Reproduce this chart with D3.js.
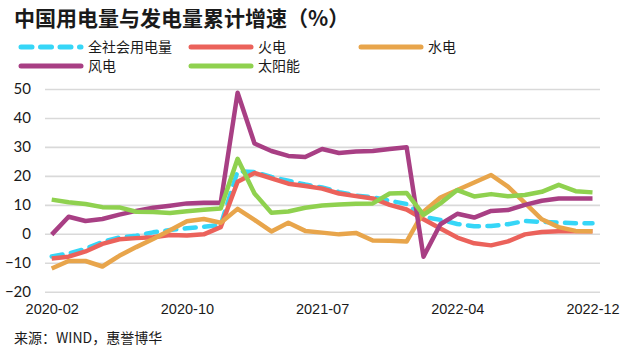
<!DOCTYPE html>
<html>
<head>
<meta charset="utf-8">
<script src="https://cdn.jsdelivr.net/npm/d3@7/dist/d3.min.js"></script>
<style>
    body { margin: 0; background: #fff; }
    svg { display: block; }
</style>
</head>
<body>
<div id="chart"></div>
<script>
// DATA
var months = ['2020-02', '2020-03', '2020-04', '2020-05', '2020-06', '2020-07', '2020-08', '2020-09', '2020-10', '2020-11', '2020-12',
    '2021-02', '2021-03', '2021-04', '2021-05', '2021-06', '2021-07', '2021-08', '2021-09', '2021-10', '2021-11', '2021-12',
    '2022-02', '2022-03', '2022-04', '2022-05', '2022-06', '2022-07', '2022-08', '2022-09', '2022-10', '2022-11', '2022-12'];
var tickMonths = ['2020-02', '2020-10', '2021-07', '2022-04', '2022-12'];
var yTicks = [-20, -10, 0, 10, 20, 30, 40, 50];

var totalUse = [-7.8, -6.8, -5.2, -2.8, -1.3, -0.7, 0.5, 1.3, 1.9, 2.4, 3.1,
    21.6, 21.3, 19.6, 18.3, 17.0, 16.0, 14.4, 13.2, 12.6, 11.4, 10.3,
    5.8, 4.8, 3.4, 2.6, 2.7, 3.3, 4.4, 4.1, 3.9, 3.6, 3.6];
var thermal = [-8.5, -7.9, -6.1, -3.5, -1.9, -1.5, -1.2, -0.4, -0.6, -0.2, 2.3,
    18.0, 21.0, 19.1, 17.3, 16.5, 15.6, 13.9, 13.0, 12.2, 10.0, 8.4,
    5.0, 1.8, -1.3, -3.3, -4.0, -2.6, -0.2, 0.6, 0.9, 0.9, 0.9];
var hydro = [-12.0, -9.4, -9.4, -11.3, -7.6, -4.6, -1.8, 1.2, 4.3, 5.1, 3.8,
    8.6, 4.8, 0.8, 3.8, 1.0, 0.4, -0.2, 0.3, -2.3, -2.4, -2.7,
    7.6, 12.5, 15.1, 17.7, 20.3, 16.3, 10.7, 5.0, 2.3, 1.0, 0.9];
var wind = [-0.3, 5.9, 4.4, 5.1, 6.6, 7.9, 9.0, 9.7, 10.5, 10.7, 10.7,
    48.7, 31.2, 28.6, 26.9, 26.5, 29.3, 27.9, 28.4, 28.6, 29.3, 29.9,
    -7.9, 3.3, 6.9, 5.6, 7.9, 8.2, 10.0, 11.4, 12.2, 12.2, 12.2];
var solar = [11.8, 10.9, 10.3, 9.2, 9.1, 7.6, 7.5, 7.2, 7.8, 8.3, 8.7,
    25.9, 13.9, 7.3, 7.7, 9.0, 9.8, 10.1, 10.4, 10.5, 13.9, 14.1,
    6.5, 10.5, 15.1, 12.9, 13.7, 13.0, 13.4, 14.5, 16.9, 14.7, 14.3];

var seriesNames = ['全社会用电量', '火电', '水电', '风电', '太阳能'];
var seriesColors = ['#36d6f7', '#eb625b', '#e8a54b', '#a83f84', '#8fd14f'];

var series = [totalUse, thermal, hydro, wind, solar].map(function (vals, k) {
    return {
        name: seriesNames[k],
        color: seriesColors[k],
        dashed: k === 0,
        values: vals.map(function (v, i) { return { month: months[i], value: v }; })
    };
});

// SVG
var width = 629, height = 353;
var svg = d3.select('#chart')
    .append('svg')
    .attr('width', width)
    .attr('height', height);

var xScale = d3.scalePoint()
    .domain(months)
    .range([51.7, 592.5]);

var yScale = d3.scaleLinear()
    .domain([-20, 50])
    .range([291.7, 89]);

// Title
svg.append('text')
    .attr('x', 14)
    .attr('y', 26)
    .style('font-family', '"Noto Sans CJK SC", sans-serif')
    .style('font-size', '21px')
    .style('font-weight', 'bold')
    .style('fill', '#1a1a1a')
    .text('中国用电量与发电量累计增速（%）');

// Legend
var legendPos = [[19, 47], [189, 47], [359, 47], [19, 66], [189, 66]];
var legend = svg.append('g').attr('class', 'legend');
series.forEach(function (s, k) {
    var p = legendPos[k];
    legend.append('line')
        .attr('x1', p[0] + 2)
        .attr('x2', p[0] + 62)
        .attr('y1', p[1])
        .attr('y2', p[1])
        .style('stroke', s.color)
        .style('stroke-width', 5)
        .style('stroke-linecap', 'round')
        .style('stroke-dasharray', s.dashed ? '11,8.5' : null);
    legend.append('text')
        .attr('x', p[0] + 69)
        .attr('y', p[1])
        .attr('dy', '0.36em')
        .style('font-family', '"Noto Sans CJK SC", sans-serif')
        .style('font-size', '14px')
        .style('fill', '#1a1a1a')
        .text(s.name);
});

// Y axis with grid lines
var yAxis = svg.append('g')
    .attr('transform', 'translate(45, 0)')
    .call(d3.axisLeft(yScale)
        .tickValues(yTicks)
        .tickSize(-555)
        .tickPadding(14));
yAxis.select('.domain').remove();
yAxis.selectAll('.tick line')
    .style('stroke', '#d9d9d9')
    .style('stroke-width', 1.6);
yAxis.selectAll('.tick text')
    .style('font-family', 'Lato, sans-serif')
    .style('font-size', '15px')
    .style('fill', '#1a1a1a');

// X axis labels
var xAxis = svg.append('g')
    .attr('transform', 'translate(0, 298)')
    .call(d3.axisBottom(xScale)
        .tickValues(tickMonths)
        .tickSize(0)
        .tickPadding(6));
xAxis.select('.domain').remove();
xAxis.selectAll('.tick text')
    .style('font-family', '"Liberation Sans", sans-serif')
    .style('font-size', '14.5px')
    .style('fill', '#1a1a1a');

// Lines
var line = d3.line()
    .x(function (d) { return xScale(d.month); })
    .y(function (d) { return yScale(d.value); });

svg.append('g')
    .selectAll('path')
    .data(series)
    .enter()
    .append('path')
    .attr('d', function (d) { return line(d.values); })
    .style('fill', 'none')
    .style('stroke', function (d) { return d.color; })
    .style('stroke-width', 4.5)
    .style('stroke-linejoin', 'round')
    .style('stroke-linecap', function (d) { return d.dashed ? 'round' : 'butt'; })
    .style('stroke-dasharray', function (d) { return d.dashed ? '11,8.5' : null; });

// Source
svg.append('text')
    .attr('x', 14)
    .attr('y', 338)
    .attr('dy', '0.36em')
    .style('font-family', '"Noto Sans CJK SC", sans-serif')
    .style('font-size', '14px')
    .style('fill', '#1a1a1a')
    .text('来源：WIND，惠誉博华');
</script>
</body>
</html>
